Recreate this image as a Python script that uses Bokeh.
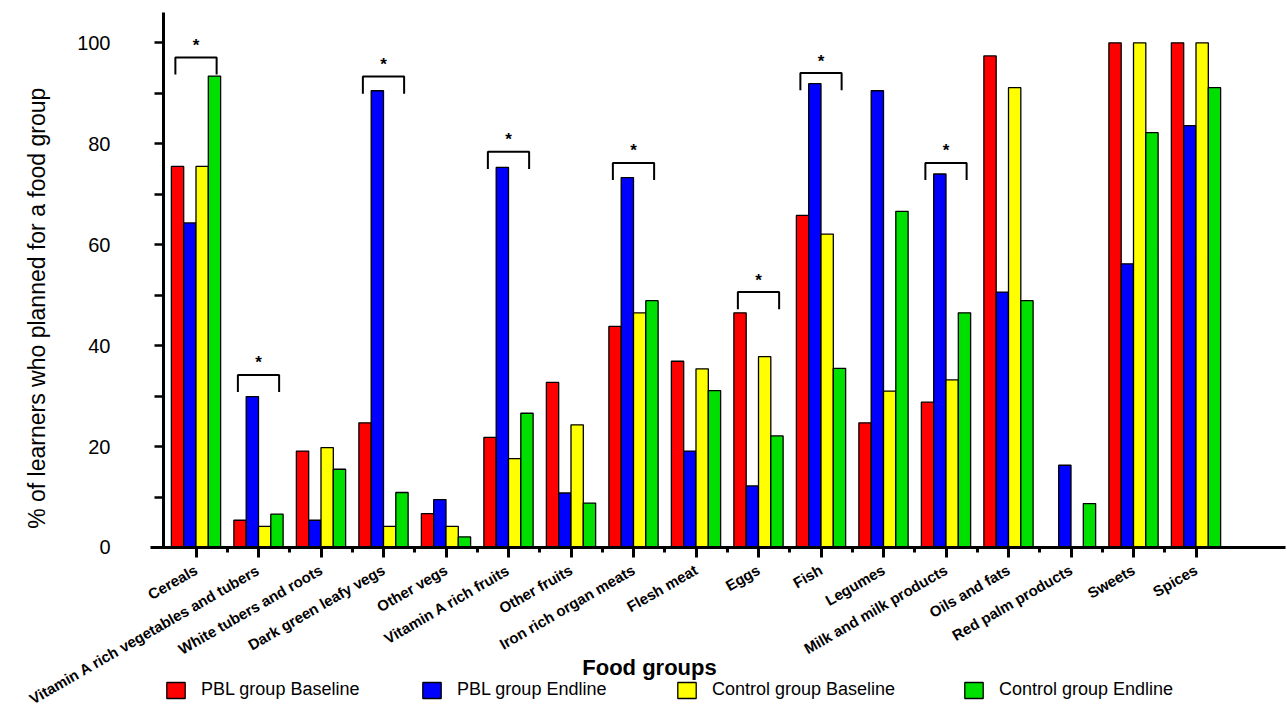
from bokeh.plotting import figure
from bokeh.models import (Range1d, FixedTicker, Legend, LegendItem, Label, ColumnDataSource)
from bokeh.core.properties import value
from bokeh.embed import file_html
from bokeh.resources import INLINE
import math

categories = ["Cereals", "Vitamin A rich vegetables and tubers", "White tubers and roots",
              "Dark green leafy vegs", "Other vegs", "Vitamin A rich fruits", "Other fruits",
              "Iron rich organ meats", "Flesh meat", "Eggs", "Fish", "Legumes",
              "Milk and milk products", "Oils and fats", "Red palm products", "Sweets", "Spices"]

pbl_baseline = [75.5, 5.4, 19.1, 24.7, 6.7, 21.8, 32.7, 43.8, 36.9, 46.5, 65.8, 24.7, 28.8, 97.4, 0, 100, 100]
pbl_endline = [64.3, 29.9, 5.4, 90.5, 9.5, 75.3, 10.8, 73.3, 19.1, 12.2, 91.9, 90.5, 74.0, 50.6, 16.3, 56.2, 83.6]
control_baseline = [75.5, 4.2, 19.8, 4.2, 4.2, 17.6, 24.3, 46.5, 35.4, 37.8, 62.1, 31.0, 33.2, 91.1, 0, 100, 100]
control_endline = [93.4, 6.6, 15.5, 10.9, 2.1, 26.6, 8.8, 48.9, 31.1, 22.1, 35.5, 66.6, 46.5, 48.9, 8.7, 82.2, 91.1]

series_names = ["PBL group Baseline", "PBL group Endline", "Control group Baseline", "Control group Endline"]
series_colors = ["#ff0000", "#0000ff", "#ffff00", "#00e000"]

# significance brackets: group index and bracket top (value units)
sig_groups = [0, 1, 3, 5, 7, 9, 10, 12]
sig_tops = [97.1, 34.2, 93.3, 78.4, 76.2, 50.6, 94.0, 76.2]

y_ticks = [0, 20, 40, 60, 80, 100]
y_minor = [10, 30, 50, 70, 90]

FONT = "Liberation Sans"
W, H = 1287, 709

p = figure(width=W, height=H, output_backend="svg", toolbar_location=None,
           x_range=Range1d(-3.128, 17.464), y_range=Range1d(-32.1, 108.38),
           min_border_left=0, min_border_right=0, min_border_top=0, min_border_bottom=0)
p.outline_line_color = None
p.xgrid.visible = False
p.ygrid.visible = False
p.background_fill_color = "white"
p.border_fill_color = "white"

xs = list(range(len(categories)))
bar_w = 0.197
offsets = [-1.5 * bar_w, -0.5 * bar_w, 0.5 * bar_w, 1.5 * bar_w]
all_series = [pbl_baseline, pbl_endline, control_baseline, control_endline]
renderers = []
for vals, off, col in zip(all_series, offsets, series_colors):
    src = ColumnDataSource(dict(x=[x + off for x in xs], top=vals))
    r = p.vbar(x="x", top="top", bottom=0, width=bar_w, source=src,
               fill_color=col, line_color="black", line_width=1.3)
    renderers.append(r)

# brackets
half = 0.33
leg = 3.4
bxs = []
bys = []
for g, t in zip(sig_groups, sig_tops):
    bxs.append([g - half, g - half, g + half, g + half])
    bys.append([t - leg, t, t, t - leg])
p.multi_line(xs=bxs, ys=bys, line_color="black", line_width=2)
p.text(x=sig_groups, y=[t + 0.5 for t in sig_tops], text=["*"] * len(sig_groups),
       text_align="center", text_baseline="bottom", text_font=value(FONT),
       text_font_size="17px", text_font_style="bold", text_color="black")

# axes
xa = p.xaxis[0]
xa.fixed_location = 0
xa.bounds = (-0.728, 17.43)
xa.ticker = FixedTicker(ticks=xs, minor_ticks=[i + 0.5 for i in range(16)])
xa.major_label_overrides = {i: c for i, c in enumerate(categories)}
xa.major_label_orientation = math.pi / 6
xa.major_label_text_font = FONT
xa.major_label_text_font_style = "bold"
xa.major_label_text_font_size = "15px"
xa.major_label_text_color = "black"
xa.axis_line_width = 3
xa.axis_line_color = "black"
xa.major_tick_line_width = 3
xa.minor_tick_line_width = 3
xa.major_tick_out = 10
xa.major_tick_in = 0
xa.minor_tick_out = 5
xa.minor_tick_in = 0
xa.major_label_standoff = 11

ya = p.yaxis[0]
ya.fixed_location = -0.52
ya.bounds = (0, 106)
ya.ticker = FixedTicker(ticks=y_ticks, minor_ticks=y_minor)
ya.major_label_text_font = FONT
ya.major_label_text_font_size = "20px"
ya.major_label_text_color = "black"
ya.axis_line_width = 3
ya.axis_line_color = "black"
ya.major_tick_line_width = 2.5
ya.minor_tick_line_width = 2.5
ya.major_tick_out = 9
ya.major_tick_in = 0
ya.minor_tick_out = 9
ya.minor_tick_in = 0
ya.major_label_standoff = 44

p.add_layout(Label(x=-2.552, y=47.4, text="% of learners who planned for a food group",
                   angle=math.pi / 2, text_align="center", text_baseline="middle",
                   text_font=FONT, text_font_size="23px", text_color="black"))

p.add_layout(Label(x=7.256, y=-23.8, text="Food groups", text_align="center",
                   text_baseline="alphabetic", text_font=FONT, text_font_style="bold",
                   text_font_size="22px", text_color="black"))

legend_x = [164, 420, 675, 962]
for name, r, lx in zip(series_names, renderers, legend_x):
    lg = Legend(items=[LegendItem(label=name, renderers=[r])],
                orientation="horizontal", location=(lx, 9),
                label_text_font=FONT, label_text_font_size="18px", label_text_color="black",
                glyph_width=23, glyph_height=20, label_standoff=14, spacing=0,
                padding=0, margin=0, border_line_color=None, background_fill_alpha=0)
    p.add_layout(lg)

open("out.html", "w").write(file_html(p, INLINE))
